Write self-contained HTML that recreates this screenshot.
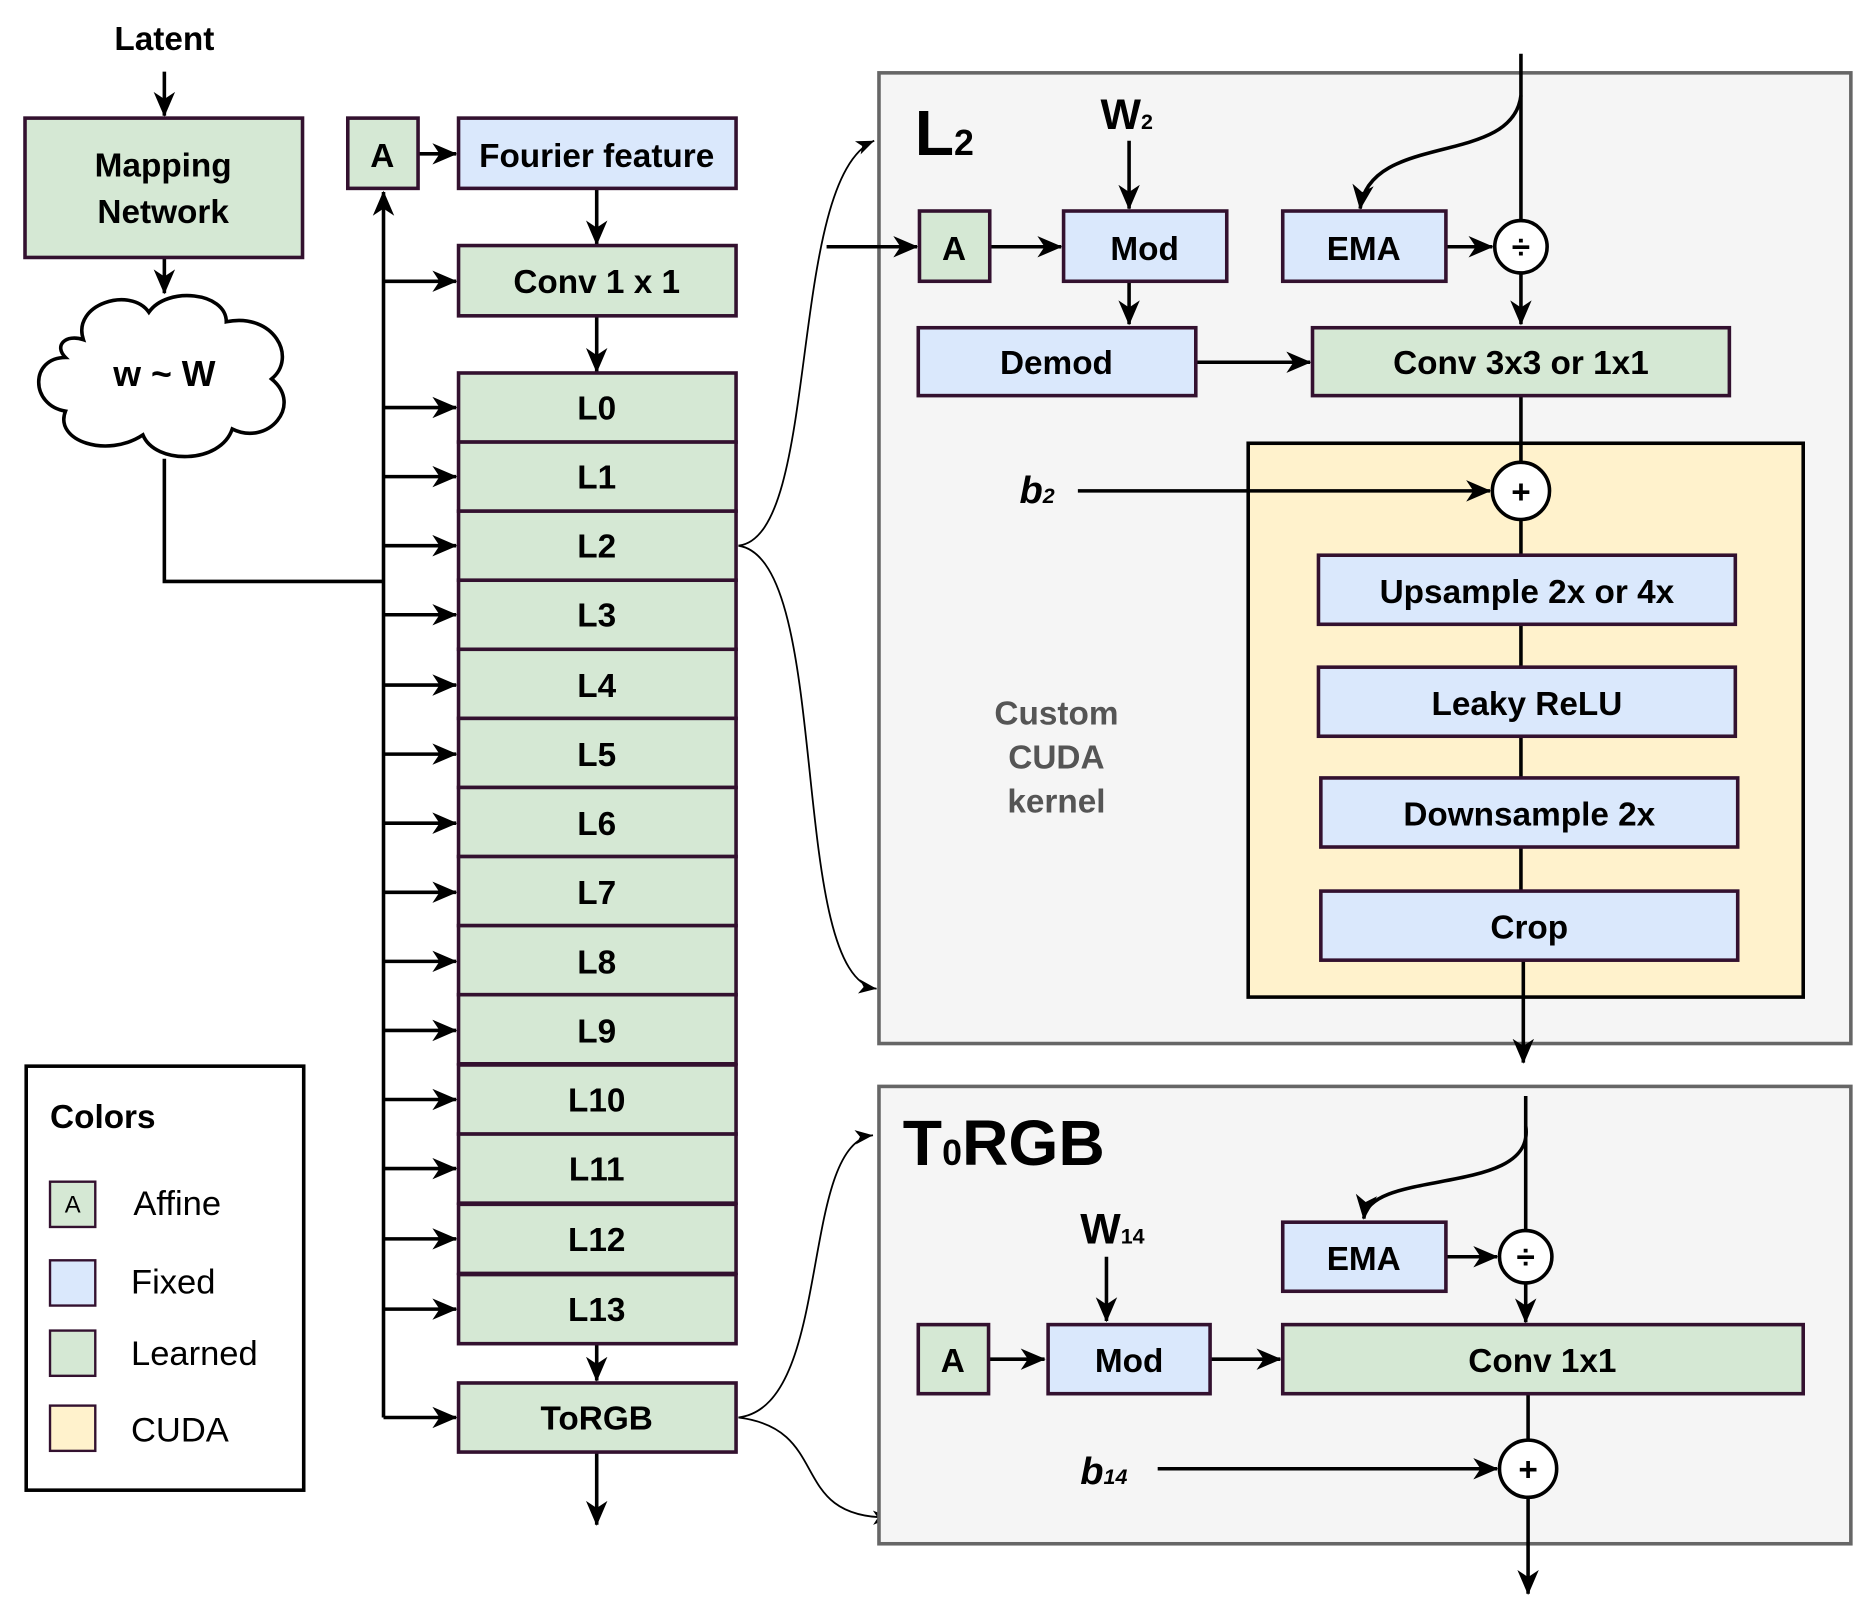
<!DOCTYPE html>
<html><head><meta charset="utf-8"><style>
html,body{margin:0;padding:0;background:#fff;}
svg{display:block;}
text{font-family:"Liberation Sans",sans-serif;font-weight:bold;fill:#000;}
text.gray{fill:#555;}
</style></head><body>
<svg width="1858" height="1619" viewBox="0 0 1560 1359" xmlns="http://www.w3.org/2000/svg">
<defs>
<marker id="ab" markerWidth="22" markerHeight="22" refX="20" refY="11" orient="auto" markerUnits="userSpaceOnUse">
<path d="M0,2 L21,11 L0,20 L6,11 z" fill="#000"/>
</marker>
<marker id="as" markerWidth="16" markerHeight="14" refX="15" refY="7" orient="auto" markerUnits="userSpaceOnUse">
<path d="M0,1 L15,7 L0,13 L4,7 z" fill="#000"/>
</marker>
</defs>
<g stroke="#000" stroke-width="3" fill="none">
<line x1="138" y1="60" x2="138" y2="97" marker-end="url(#ab)"/>
<line x1="138" y1="216" x2="138" y2="246" marker-end="url(#ab)"/>
<polyline points="138,385 138,488 322,488"/>
<line x1="322" y1="1190" x2="322" y2="161" marker-end="url(#ab)"/>
<line x1="351" y1="129" x2="383" y2="129" marker-end="url(#ab)"/>
<line x1="501" y1="158" x2="501" y2="205" marker-end="url(#ab)"/>
<line x1="501" y1="265" x2="501" y2="312" marker-end="url(#ab)"/>
<line x1="322" y1="236" x2="383" y2="236" marker-end="url(#ab)"/>
<line x1="501" y1="1128" x2="501" y2="1159" marker-end="url(#ab)"/>
<line x1="322" y1="1190" x2="383" y2="1190" marker-end="url(#ab)"/>
<line x1="501" y1="1219" x2="501" y2="1280" marker-end="url(#ab)"/>
</g>
<g stroke="#000" stroke-width="3" marker-end="url(#ab)">
<line x1="322" y1="342" x2="383" y2="342"/><line x1="322" y1="400" x2="383" y2="400"/>
<line x1="322" y1="458" x2="383" y2="458"/><line x1="322" y1="516" x2="383" y2="516"/>
<line x1="322" y1="575" x2="383" y2="575"/><line x1="322" y1="633" x2="383" y2="633"/>
<line x1="322" y1="691" x2="383" y2="691"/><line x1="322" y1="749" x2="383" y2="749"/>
<line x1="322" y1="807" x2="383" y2="807"/><line x1="322" y1="865" x2="383" y2="865"/>
<line x1="322" y1="923" x2="383" y2="923"/><line x1="322" y1="981" x2="383" y2="981"/>
<line x1="322" y1="1040" x2="383" y2="1040"/><line x1="322" y1="1099" x2="383" y2="1099"/>
</g>
<text x="138" y="42" font-size="28" text-anchor="middle">Latent</text>
<rect x="21" y="99" width="233" height="117" fill="#d5e8d4" stroke="#33112f" stroke-width="3"/>
<text x="137" y="148" font-size="28" text-anchor="middle">Mapping</text>
<text x="137" y="187" font-size="28" text-anchor="middle">Network</text>
<path d="M70,285 C60,255 110,240 125,262 C140,240 190,245 190,270 C230,262 250,300 228,318 C255,340 225,375 195,360 C185,390 130,390 120,365 C90,385 45,370 55,345 C25,340 25,300 55,300 C45,290 55,280 70,285 z" fill="#fff" stroke="#000" stroke-width="3"/>
<text x="138" y="324" font-size="30" text-anchor="middle">w ~ W</text>
<rect x="292" y="99" width="59" height="59" fill="#d5e8d4" stroke="#33112f" stroke-width="3"/>
<text x="321" y="140" font-size="28" text-anchor="middle">A</text>
<rect x="385" y="99" width="233" height="59" fill="#dae8fc" stroke="#33112f" stroke-width="3"/>
<text x="501" y="140" font-size="28" text-anchor="middle">Fourier feature</text>
<rect x="385" y="206" width="233" height="59" fill="#d5e8d4" stroke="#33112f" stroke-width="3"/>
<text x="501" y="246" font-size="28" text-anchor="middle">Conv 1 x 1</text>
<g fill="#d5e8d4" stroke="#33112f" stroke-width="3">
<rect x="385" y="313" width="233" height="58"/><rect x="385" y="371" width="233" height="58"/>
<rect x="385" y="429" width="233" height="58"/><rect x="385" y="487" width="233" height="58"/>
<rect x="385" y="545" width="233" height="58"/><rect x="385" y="603" width="233" height="58"/>
<rect x="385" y="661" width="233" height="58"/><rect x="385" y="719" width="233" height="58"/>
<rect x="385" y="777" width="233" height="58"/><rect x="385" y="835" width="233" height="58"/>
<rect x="385" y="894" width="233" height="58"/><rect x="385" y="952" width="233" height="58"/>
<rect x="385" y="1011" width="233" height="58"/><rect x="385" y="1070" width="233" height="58"/>
<rect x="385" y="1161" width="233" height="58"/>
</g>
<g font-size="28" text-anchor="middle">
<text x="501" y="352">L0</text><text x="501" y="410">L1</text><text x="501" y="468">L2</text>
<text x="501" y="526">L3</text><text x="501" y="585">L4</text><text x="501" y="643">L5</text>
<text x="501" y="701">L6</text><text x="501" y="759">L7</text><text x="501" y="817">L8</text>
<text x="501" y="875">L9</text><text x="501" y="933">L10</text><text x="501" y="991">L11</text>
<text x="501" y="1050">L12</text><text x="501" y="1109">L13</text><text x="501" y="1200">ToRGB</text>
</g>
<rect x="22" y="895" width="233" height="356" fill="#fff" stroke="#000" stroke-width="3"/>
<text x="42" y="947" font-size="28">Colors</text>
<rect x="42" y="992" width="38" height="38" fill="#d5e8d4" stroke="#33112f" stroke-width="2"/>
<text x="61" y="1018" font-size="20" text-anchor="middle" style="font-weight:normal">A</text>
<text x="112" y="1020" font-size="29" style="font-weight:normal">Affine</text>
<rect x="42" y="1058" width="38" height="38" fill="#dae8fc" stroke="#33112f" stroke-width="2"/>
<text x="110" y="1086" font-size="29" style="font-weight:normal">Fixed</text>
<rect x="42" y="1117" width="38" height="38" fill="#d5e8d4" stroke="#33112f" stroke-width="2"/>
<text x="110" y="1146" font-size="29" style="font-weight:normal">Learned</text>
<rect x="42" y="1180" width="38" height="38" fill="#fff2cc" stroke="#33112f" stroke-width="2"/>
<text x="110" y="1210" font-size="29" style="font-weight:normal">CUDA</text>
<g stroke="#000" stroke-width="1.5" fill="none">
<path d="M620,458 C690,450 660,150 734,118" marker-end="url(#as)"/>
<path d="M620,458 C700,470 660,820 736,830" marker-end="url(#as)"/>
<path d="M620,1190 C700,1180 670,960 733,953" marker-end="url(#as)"/>
<path d="M620,1190 C700,1200 660,1275 748,1274" marker-end="url(#as)"/>
</g>
<rect x="738" y="61" width="816" height="815" fill="#f5f5f5" stroke="#666" stroke-width="3"/>
<text x="768" y="130" font-size="54">L<tspan font-size="30">2</tspan></text>
<rect x="1048" y="372" width="466" height="465" fill="#fff2cc" stroke="#000" stroke-width="3"/>
<g stroke="#000" stroke-width="3" fill="none">
<line x1="1277" y1="45" x2="1277" y2="185"/>
<path d="M1277,80 C1270,140 1150,110 1142,175" marker-end="url(#ab)"/>
<line x1="948" y1="118" x2="948" y2="175" marker-end="url(#ab)"/>
<line x1="694" y1="207" x2="770" y2="207" marker-end="url(#ab)"/>
<line x1="831" y1="207" x2="891" y2="207" marker-end="url(#ab)"/>
<line x1="1214" y1="207" x2="1253" y2="207" marker-end="url(#ab)"/>
<line x1="948" y1="236" x2="948" y2="272" marker-end="url(#ab)"/>
<line x1="1004" y1="304" x2="1100" y2="304" marker-end="url(#ab)"/>
<line x1="1277" y1="229" x2="1277" y2="272" marker-end="url(#ab)"/>
<line x1="1277" y1="332" x2="1277" y2="806"/>
<line x1="905" y1="412" x2="1251" y2="412" marker-end="url(#ab)"/>
<line x1="1279" y1="806" x2="1279" y2="892" marker-end="url(#ab)"/>
</g>
<text x="924" y="108" font-size="36">W<tspan font-size="18">2</tspan></text>
<rect x="772" y="177" width="59" height="59" fill="#d5e8d4" stroke="#33112f" stroke-width="3"/>
<text x="801" y="218" font-size="28" text-anchor="middle">A</text>
<rect x="893" y="177" width="137" height="59" fill="#dae8fc" stroke="#33112f" stroke-width="3"/>
<text x="961" y="218" font-size="28" text-anchor="middle">Mod</text>
<rect x="1077" y="177" width="137" height="59" fill="#dae8fc" stroke="#33112f" stroke-width="3"/>
<text x="1145" y="218" font-size="28" text-anchor="middle">EMA</text>
<circle cx="1277" cy="207" r="22" fill="#fff" stroke="#000" stroke-width="3"/>
<text x="1277" y="217" font-size="28" text-anchor="middle">÷</text>
<rect x="771" y="275" width="233" height="57" fill="#dae8fc" stroke="#33112f" stroke-width="3"/>
<text x="887" y="314" font-size="28" text-anchor="middle">Demod</text>
<rect x="1102" y="275" width="350" height="57" fill="#d5e8d4" stroke="#33112f" stroke-width="3"/>
<text x="1277" y="314" font-size="28" text-anchor="middle">Conv 3x3 or 1x1</text>
<circle cx="1277" cy="412" r="24" fill="#fff" stroke="#000" stroke-width="3"/>
<text x="1277" y="422" font-size="28" text-anchor="middle">+</text>
<text x="856" y="422" font-size="32" font-style="italic">b<tspan font-size="18">2</tspan></text>
<g fill="#dae8fc" stroke="#33112f" stroke-width="3">
<rect x="1107" y="466" width="350" height="58"/><rect x="1107" y="560" width="350" height="58"/>
<rect x="1109" y="653" width="350" height="58"/><rect x="1109" y="748" width="350" height="58"/>
</g>
<g font-size="28" text-anchor="middle">
<text x="1282" y="506">Upsample 2x or 4x</text><text x="1282" y="600">Leaky ReLU</text>
<text x="1284" y="693">Downsample 2x</text><text x="1284" y="788">Crop</text>
</g>
<g font-size="28" text-anchor="middle">
<text class="gray" x="887" y="608" style="fill:#555;font-weight:600">Custom</text>
<text class="gray" x="887" y="645" style="fill:#555;font-weight:600">CUDA</text>
<text class="gray" x="887" y="682" style="fill:#555;font-weight:600">kernel</text>
</g>
<rect x="738" y="912" width="816" height="384" fill="#f5f5f5" stroke="#666" stroke-width="3"/>
<text x="758" y="978" font-size="54">T<tspan font-size="30">0</tspan>RGB</text>
<g stroke="#000" stroke-width="3" fill="none">
<line x1="1281" y1="920" x2="1281" y2="1033"/>
<path d="M1281,945 C1290,1005 1150,980 1145,1023" marker-end="url(#ab)"/>
<line x1="929" y1="1055" x2="929" y2="1109" marker-end="url(#ab)"/>
<line x1="831" y1="1141" x2="877" y2="1141" marker-end="url(#ab)"/>
<line x1="1016" y1="1141" x2="1075" y2="1141" marker-end="url(#ab)"/>
<line x1="1214" y1="1055" x2="1257" y2="1055" marker-end="url(#ab)"/>
<line x1="1281" y1="1077" x2="1281" y2="1110" marker-end="url(#ab)"/>
<line x1="1283" y1="1170" x2="1283" y2="1209"/>
<line x1="972" y1="1233" x2="1257" y2="1233" marker-end="url(#ab)"/>
<line x1="1283" y1="1257" x2="1283" y2="1338" marker-end="url(#ab)"/>
</g>
<text x="907" y="1044" font-size="36">W<tspan font-size="18">14</tspan></text>
<rect x="1077" y="1026" width="137" height="58" fill="#dae8fc" stroke="#33112f" stroke-width="3"/>
<text x="1145" y="1066" font-size="28" text-anchor="middle">EMA</text>
<circle cx="1281" cy="1055" r="22" fill="#fff" stroke="#000" stroke-width="3"/>
<text x="1281" y="1065" font-size="28" text-anchor="middle">÷</text>
<rect x="771" y="1112" width="59" height="58" fill="#d5e8d4" stroke="#33112f" stroke-width="3"/>
<text x="800" y="1152" font-size="28" text-anchor="middle">A</text>
<rect x="880" y="1112" width="136" height="58" fill="#dae8fc" stroke="#33112f" stroke-width="3"/>
<text x="948" y="1152" font-size="28" text-anchor="middle">Mod</text>
<rect x="1077" y="1112" width="437" height="58" fill="#d5e8d4" stroke="#33112f" stroke-width="3"/>
<text x="1295" y="1152" font-size="28" text-anchor="middle">Conv 1x1</text>
<circle cx="1283" cy="1233" r="24" fill="#fff" stroke="#000" stroke-width="3"/>
<text x="1283" y="1243" font-size="28" text-anchor="middle">+</text>
<text x="907" y="1246" font-size="32" font-style="italic">b<tspan font-size="18">14</tspan></text>
</svg>
</body></html>
